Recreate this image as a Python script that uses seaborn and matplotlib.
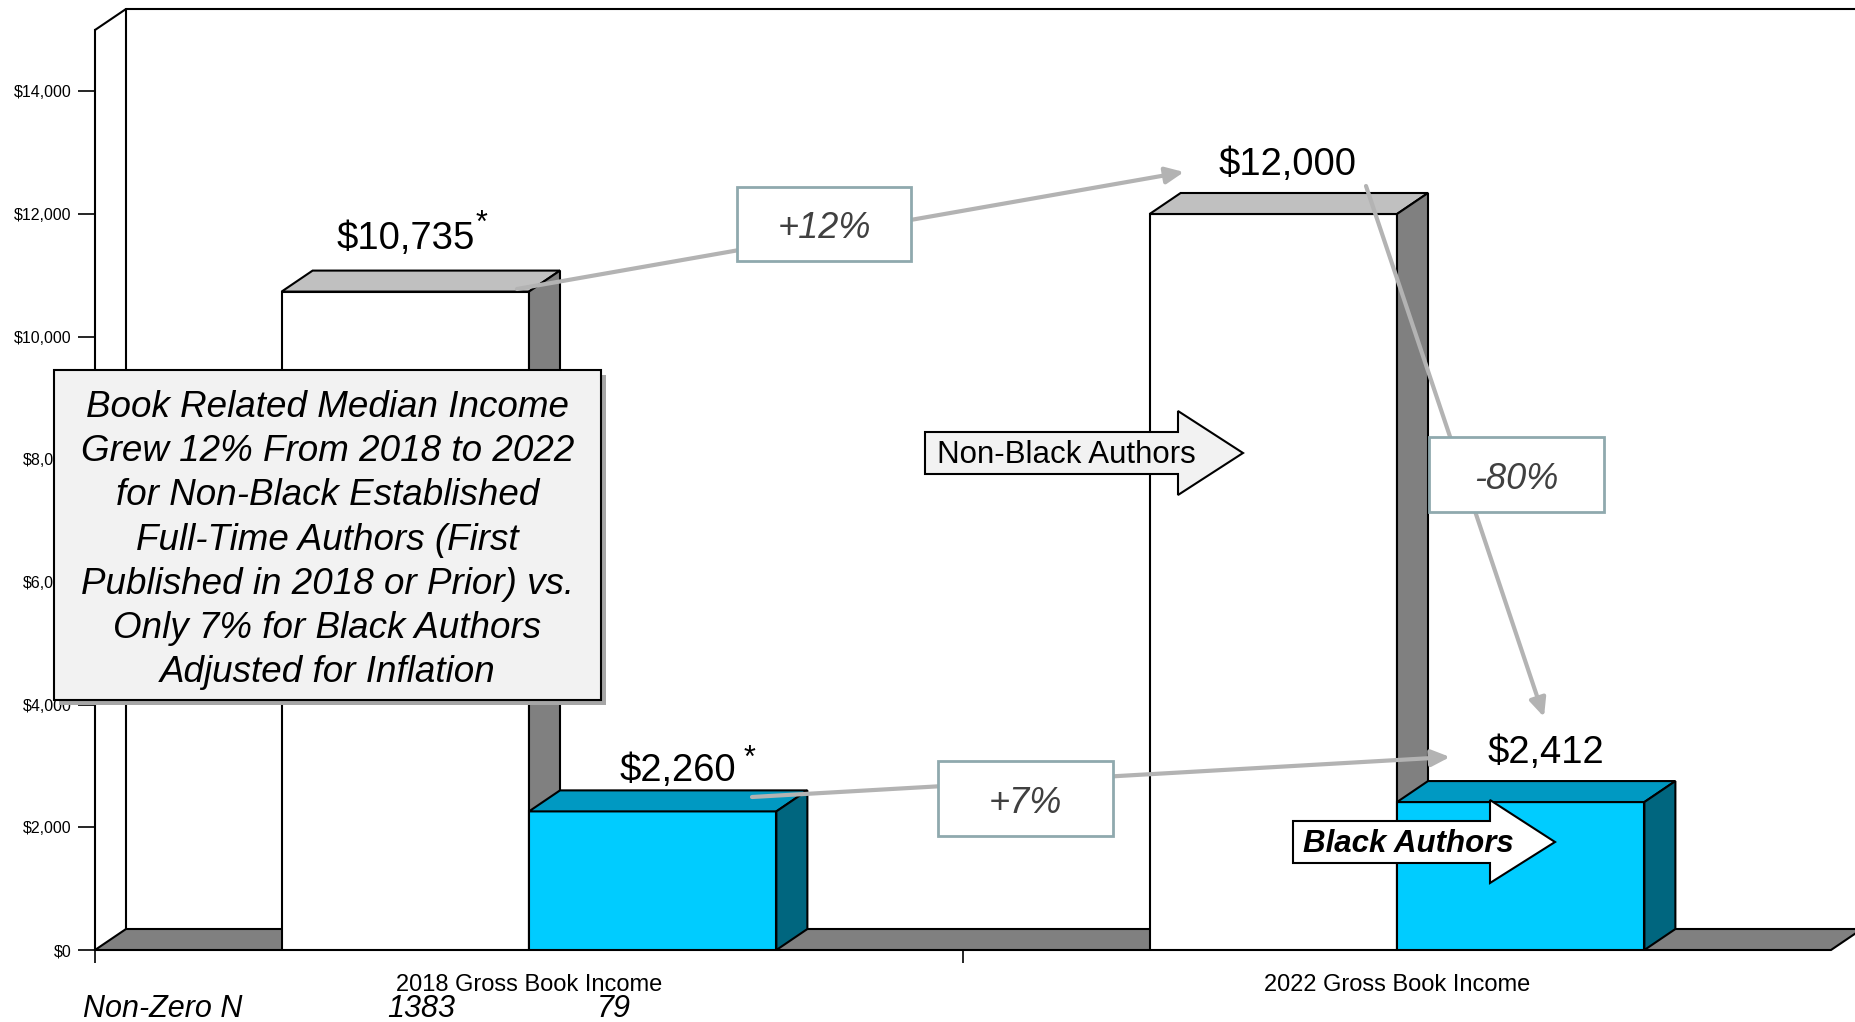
import numpy as np
import pandas as pd
import matplotlib
matplotlib.use("Agg")
import matplotlib.pyplot as plt
import seaborn as sns
from matplotlib.patches import Polygon, Rectangle, FancyArrowPatch
from matplotlib.lines import Line2D

# ---------------- data ----------------
years = ["2018 Gross Book Income", "2022 Gross Book Income"]
groups = ["Non-Black Authors", "Black Authors"]
non_black_income = [10735, 12000]
black_income = [2260, 2412]
value_labels_nb = ["$10,735", "$12,000"]
value_labels_b = ["$2,260", "$2,412"]
starred_nb = [True, False]
starred_b = [True, False]
n_nonzero = ["1383", "79"]
pct_labels = ["+12%", "+7%", "-80%"]
yticks = [0, 2000, 4000, 6000, 8000, 10000, 12000, 14000]
ytick_labels = ["$0", "$2,000", "$4,000", "$6,000", "$8,000", "$10,000", "$12,000", "$14,000"]
callout_text = ("Book Related Median Income\nGrew 12% From 2018 to 2022\nfor Non-Black Established\n"
                "Full-Time Authors (First\nPublished in 2018 or Prior) vs.\nOnly 7% for Black Authors\n"
                "Adjusted for Inflation")

df = pd.DataFrame({
    "year": years * 2,
    "group": [groups[0]] * 2 + [groups[1]] * 2,
    "income": non_black_income + black_income,
})

# ---------------- style ----------------
sns.set_theme(style="white")
plt.rcParams["font.family"] = ["Liberation Sans", "DejaVu Sans"]

W, H = 1855, 1022
fig = plt.figure(figsize=(W / 100, H / 100), dpi=100)
fig.patch.set_facecolor("white")
ax = fig.add_axes([95 / W, 72 / H, (1831 - 95) / W, 920 / H])
ax.set_facecolor("none")

def fx(x):
    return x / W

def fy(y):
    return 1 - y / H

front_colors = {groups[0]: "#FFFFFF", groups[1]: "#00CCFF"}
face_colors = {"#FFFFFF": ("#C0C0C0", "#808080"), "#00CCFF": ("#0099C2", "#00667F")}

sns.barplot(data=df, x="year", y="income", hue="group", hue_order=groups,
            palette=front_colors, saturation=1, width=0.57, edgecolor="black",
            linewidth=1.5, errorbar=None, legend=False, ax=ax)

ax.set_xlim(-0.5, 1.5)
ax.set_ylim(0, 15000)
ax.set_xlabel("")
ax.set_ylabel("")

# depth of the 3-D effect (pixels -> data)
DX, DY = 31, 21
p0 = ax.transData.transform((0, 0))
dxd, dyd = ax.transData.inverted().transform(p0 + np.array([DX, DY]))

# floor
floor = Polygon([(-0.5, 0), (1.5, 0), (1.5 + dxd, dyd), (-0.5 + dxd, dyd)],
                closed=True, fc="#808080", ec="black", lw=1.5, zorder=1, clip_on=False)
ax.add_patch(floor)
# back wall lines
ax.add_line(Line2D([-0.5 + dxd, -0.5 + dxd], [dyd, 15000 + dyd], color="black", lw=1.5,
                   zorder=1.1, clip_on=False))
ax.add_line(Line2D([-0.5, -0.5 + dxd, 1.5 + dxd], [15000, 15000 + dyd, 15000 + dyd],
                   color="black", lw=1.5, zorder=1.1, clip_on=False))

# 3-D faces on bars
bars = sorted([p for p in ax.patches if isinstance(p, Rectangle) and p is not floor],
              key=lambda p: p.get_x())
for k, p in enumerate(bars):
    x0, w, h = p.get_x(), p.get_width(), p.get_height()
    fc = matplotlib.colors.to_hex(p.get_facecolor()).upper()
    top_c, side_c = face_colors.get(fc, ("#C0C0C0", "#808080"))
    z = 3 + 0.1 * k
    p.set_zorder(z)
    ax.add_patch(Polygon([(x0, h), (x0 + w, h), (x0 + w + dxd, h + dyd), (x0 + dxd, h + dyd)],
                         closed=True, fc=top_c, ec="black", lw=1.5, zorder=z, clip_on=False))
    ax.add_patch(Polygon([(x0 + w, 0), (x0 + w + dxd, dyd), (x0 + w + dxd, h + dyd), (x0 + w, h)],
                         closed=True, fc=side_c, ec="black", lw=1.5, zorder=z, clip_on=False))

# axes / ticks
for s in ["top", "right", "bottom"]:
    ax.spines[s].set_visible(False)
ax.spines["left"].set_color("black")
ax.spines["left"].set_linewidth(1.5)
ax.spines["left"].set_zorder(2)
ax.set_yticks(yticks)
ax.set_yticklabels(ytick_labels)
ax.tick_params(axis="y", which="major", length=12, width=1.2, color="black",
               direction="out", left=True, pad=5, labelsize=11.5, labelcolor="black")
ax.set_xticks([0, 1])
ax.set_xticklabels(years)
ax.set_xticks([-0.5, 0.5], minor=True)
ax.tick_params(axis="x", which="major", length=0, pad=17, labelsize=17, labelcolor="black")
ax.tick_params(axis="x", which="minor", length=9.5, width=1.2, color="black",
               direction="out", bottom=True)
ax.grid(False)

# value labels (offsets in pixels relative to bar top centre)
lab_offsets = [(0, 53), (25, 40), (14, 49), (25, 49)]  # order: sorted bars
star_offsets = [(76, 68), (97, 52)]
labels_sorted = [value_labels_nb[0], value_labels_b[0], value_labels_nb[1], value_labels_b[1]]
stars_sorted = [starred_nb[0], starred_b[0], starred_nb[1], starred_b[1]]
si = 0
for p, lab, off, st in zip(bars, labels_sorted, lab_offsets, stars_sorted):
    cx = p.get_x() + p.get_width() / 2
    h = p.get_height()
    ax.annotate(lab, xy=(cx, h), xytext=off, textcoords="offset pixels",
                ha="center", va="center", fontsize=27.5, color="black", zorder=6,
                annotation_clip=False)
    if st:
        so = star_offsets[si]
        si += 1
        ax.annotate("*", xy=(cx, h), xytext=so, textcoords="offset pixels",
                    ha="center", va="center", fontsize=22, color="black", zorder=6,
                    annotation_clip=False)

# grey trend arrows
def arrow(x0, y0, x1, y1):
    a = FancyArrowPatch(posA=(fx(x0), fy(y0)), posB=(fx(x1), fy(y1)),
                        transform=fig.transFigure,
                        arrowstyle="-|>,head_length=11,head_width=5",
                        mutation_scale=1, lw=3, color="#B3B3B3",
                        shrinkA=0, shrinkB=0, zorder=8)
    fig.add_artist(a)

arrow(517, 289, 1184, 172)
arrow(752, 797, 1450, 757)
arrow(1366, 186, 1544, 717)

# percentage boxes
pct_boxes = [(737, 187, 911, 261), (938, 761, 1113, 836), (1429, 437, 1604, 512)]
for lab, (x0, y0, x1, y1) in zip(pct_labels, pct_boxes):
    fig.add_artist(Rectangle((fx(x0), fy(y1)), fx(x1) - fx(x0), fy(y0) - fy(y1),
                             transform=fig.transFigure, fc="white", ec="#8FA9AE", lw=2,
                             zorder=10))
    fig.text(fx((x0 + x1) / 2), fy((y0 + y1) / 2 + 5), lab, ha="center", va="center",
             fontsize=26, style="italic", color="#404040", zorder=11)

# block arrows
def block_arrow(x0, x_head, x_tip, yb0, yb1, yh0, yh1, fc):
    yc = (yb0 + yb1) / 2
    pts = [(x0, yb0), (x_head, yb0), (x_head, yh0), (x_tip, yc), (x_head, yh1),
           (x_head, yb1), (x0, yb1)]
    fig.add_artist(Polygon([(fx(a), fy(b)) for a, b in pts], closed=True,
                           transform=fig.transFigure, fc=fc, ec="black", lw=1.5, zorder=9))

block_arrow(925, 1178, 1243, 432, 474, 411, 495, "#F2F2F2")
fig.text(fx(937), fy(455), groups[0], ha="left", va="center", fontsize=22.5,
         color="black", zorder=9.5)
block_arrow(1293, 1490, 1555, 821, 863, 800, 883, "#FFFFFF")
fig.text(fx(1303), fy(844), groups[1], ha="left", va="center", fontsize=22.5,
         fontweight="bold", style="italic", color="black", zorder=9.5)

# callout box
cx0, cy0, cx1, cy1 = 54, 370, 601, 700
fig.add_artist(Rectangle((fx(cx0 + 5), fy(cy1 + 5)), fx(cx1) - fx(cx0), fy(cy0) - fy(cy1),
                         transform=fig.transFigure, fc="#A6A6A6", ec="none", zorder=11))
fig.add_artist(Rectangle((fx(cx0), fy(cy1)), fx(cx1) - fx(cx0), fy(cy0) - fy(cy1),
                         transform=fig.transFigure, fc="#F2F2F2", ec="black", lw=1.5, zorder=12))
fig.text(fx((cx0 + cx1) / 2), fy(540), callout_text, ha="center", va="center",
         multialignment="center", fontsize=26.5, style="italic", color="black",
         linespacing=1.345, zorder=13)

# non-zero N row
for xpos, txt in [(83, "Non-Zero N"), (387, n_nonzero[0]), (597, n_nonzero[1])]:
    fig.text(fx(xpos), fy(1009), txt, ha="left", va="center", fontsize=22,
             style="italic", color="black")

fig.savefig("out.png", dpi=100, facecolor="white")
